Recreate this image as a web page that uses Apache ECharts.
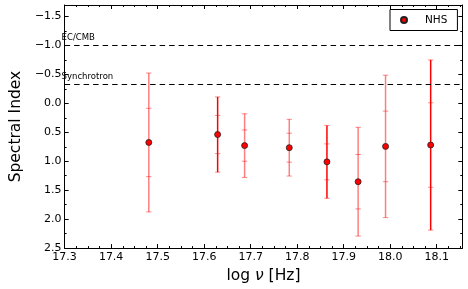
<!DOCTYPE html>
<html><head><meta charset="utf-8">
<script src="https://cdn.jsdelivr.net/npm/echarts@6/dist/echarts.min.js"></script>
<style>html,body{margin:0;padding:0;background:#fff}#c{width:468px;height:289px}</style>
</head><body><div id="c"></div>
<script>
// log frequency [Hz]
const logFreq = [17.481, 17.629, 17.687, 17.783, 17.864, 17.931, 17.990, 18.087];
// spectral index
const specIndex = [0.675, 0.538, 0.729, 0.765, 1.010, 1.353, 0.743, 0.719];
// inner (1 sigma) and outer (2 sigma) errors
const errInner = [0.59, 0.33, 0.27, 0.25, 0.31, 0.47, 0.61, 0.73];
const errOuter = [1.20, 0.65, 0.55, 0.49, 0.63, 0.94, 1.23, 1.47];
// bars drawn solid red (1) or faint (0)
const solidBar = [0, 1, 0, 0, 1, 0, 0, 1];
// reference lines
const refLineNames = ['EC/CMB', 'Synchrotron'];
const refLineValues = [-1.0, -0.33];
const seriesName = 'NHS';

const FONT = 'DejaVu Sans';
const chart = echarts.init(document.getElementById('c'), null, {renderer: 'canvas'});

const scatterData = logFreq.map((x, i) => [x, specIndex[i]]);
const errData = logFreq.map((x, i) => [x, specIndex[i], errInner[i], errOuter[i], solidBar[i]]);

function isMult(v, step) { const r = v / step; return Math.abs(r - Math.round(r)) < 1e-6; }
const fmtY = v => isMult(v, 0.5) ? (Math.abs(v) < 1e-9 ? '0.0' : v.toFixed(1).replace('-', '\u2212')) : '';
const fmtX = v => isMult(v, 0.1) ? v.toFixed(1) : '';

const axisLine = {show: true, onZero: false, lineStyle: {color: '#000', width: 1}};
const tick = {show: true, inside: true, length: 4, lineStyle: {color: '#000', width: 1}};
const label = {color: '#000', fontFamily: FONT, fontSize: 11};

function xAx(pos, showLabel) {
  return {
    type: 'value', position: pos, min: 17.3, max: 18.155, interval: 0.1,
    axisLine, axisTick: tick,
    minorTick: {show: true, splitNumber: 4, length: 2, lineStyle: {color: '#000', width: 1}},
    splitLine: {show: false}, minorSplitLine: {show: false},
    axisLabel: Object.assign({show: showLabel, formatter: fmtX, margin: 4, showMaxLabel: false}, label),
    name: showLabel ? '{a|log }{b|\u03bd}{a| [Hz]}' : '',
    nameLocation: 'middle', nameGap: 15,
    nameTextStyle: {color: '#000', rich: {
      a: {fontFamily: FONT, fontSize: 15.5, color: '#000'},
      b: {fontFamily: FONT, fontSize: 15.5, fontStyle: 'italic', color: '#000'}
    }}
  };
}
function yAx(pos, showLabel) {
  return {
    type: 'value', position: pos, inverse: true, min: -1.7, max: 2.5, splitNumber: 8,
    axisLine, axisTick: tick,
    minorTick: {show: true, splitNumber: 2, length: 2, lineStyle: {color: '#000', width: 1}},
    splitLine: {show: false}, minorSplitLine: {show: false},
    axisLabel: Object.assign({show: showLabel, formatter: fmtY, margin: 3}, label),
    name: showLabel ? 'Spectral Index' : '',
    nameLocation: 'middle', nameGap: 29,
    nameTextStyle: {color: '#000', fontFamily: FONT, fontSize: 15.5}
  };
}

const option = {
  animation: false,
  backgroundColor: '#fff',
  grid: {left: 55.7, right: 5.7, top: 5, bottom: 39.7, containLabel: false},
  xAxis: [xAx('bottom', true), xAx('top', false)],
  yAxis: [yAx('left', true), yAx('right', false)],
  legend: {
    data: [seriesName], left: 390, top: 9.5,
    padding: [5, 10, 5, 10], itemWidth: 14, itemHeight: 6, itemGap: 0,
    borderColor: '#000', borderWidth: 1, backgroundColor: '#fff',
    textStyle: {fontFamily: FONT, fontSize: 10.5, color: '#000', padding: [0, 0, 0, 9]}
  },
  series: [
    {
      type: 'custom', name: 'err', xAxisIndex: 0, yAxisIndex: 0, z: 2,
      data: errData, silent: true,
      renderItem: function (params, api) {
        const x = api.value(0), y = api.value(1), e1 = api.value(2), e2 = api.value(3), s = api.value(4);
        const top2 = api.coord([x, y - e2]), bot2 = api.coord([x, y + e2]);
        const top1 = api.coord([x, y - e1]), bot1 = api.coord([x, y + e1]);
        const cx = top2[0];
        const lc = s ? '#ff0000' : 'rgba(255,0,0,0.5)';
        const cc = 'rgba(255,0,0,0.45)';
        const hw = 2.7;
        const cap = yy => ({type: 'line', shape: {x1: cx - hw, y1: yy, x2: cx + hw, y2: yy},
          style: {stroke: cc, lineWidth: 1}});
        return {type: 'group', children: [
          {type: 'line', shape: {x1: cx, y1: top2[1], x2: cx, y2: bot2[1]}, style: {stroke: lc, lineWidth: 1.5}},
          cap(top2[1]), cap(bot2[1]), cap(top1[1]), cap(bot1[1])
        ]};
      }
    },
    {
      type: 'scatter', name: seriesName, xAxisIndex: 0, yAxisIndex: 0, z: 5,
      data: scatterData, symbol: 'circle', symbolSize: 6,
      itemStyle: {color: '#f00', borderColor: '#222', borderWidth: 0.8, opacity: 1},
      markLine: {
        silent: true, symbol: ['none', 'none'],
        lineStyle: {type: [5.5, 4], color: '#000', width: 1},
        label: {position: 'insideStartTop', distance: [-3, 3], color: '#000', fontFamily: FONT, fontSize: 8.5},
        data: refLineValues.map((v, i) => ({yAxis: v, label: {formatter: refLineNames[i]}}))
      }
    }
  ]
};
chart.setOption(option);
</script>
</body></html>
